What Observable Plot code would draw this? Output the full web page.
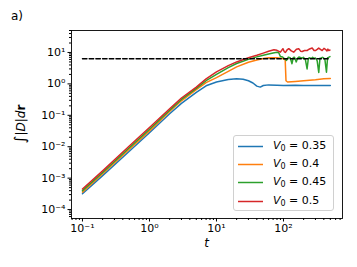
<!DOCTYPE html>
<html><head><meta charset="utf-8">
<script src="https://cdn.jsdelivr.net/npm/d3@7"></script>
<script src="https://cdn.jsdelivr.net/npm/@observablehq/plot@0.6"></script>
<style>
body{margin:0;background:#fff;}
#wrap{position:relative;width:357px;height:267px;font-family:"DejaVu Sans",sans-serif;}
#legend{position:absolute;left:233px;top:135px;width:101px;height:76px;border:1px solid #d0d0d0;border-radius:3px;background:rgba(255,255,255,0.85);box-sizing:border-box;}
.row{position:absolute;left:0;height:18px;font-size:11px;line-height:18px;color:#000;}
.row svg{position:absolute;left:4px;top:8px;}
.row span{position:absolute;left:39px;white-space:nowrap;}
.row sub{font-size:8px;vertical-align:-2px;}
</style></head><body><div id="wrap"></div>
<script>
const seriesNames = ["V0 = 0.35", "V0 = 0.4", "V0 = 0.45", "V0 = 0.5"];
const seriesValues = ["0.35", "0.4", "0.45", "0.5"];
const colors = ["#1f77b4", "#ff7f0e", "#2ca02c", "#d62728"];

const tBlue = [0.1,0.2,0.5,1,2,3,5,7,10,15,20,25,30,35,40,45,50,60,80,100,150,200,300,500];
const vBlue = [3.2e-4,1.2e-3,7.2e-3,0.028,0.112,0.24,0.54,0.87,1.15,1.38,1.45,1.41,1.26,1.07,0.85,0.79,0.89,0.93,0.91,0.89,0.91,0.89,0.89,0.89];

const tOrange = [0.1,0.2,0.5,1,2,3,5,7,10,15,20,30,40,50,60,80,100,106,109,115,150,200,300,400,500];
const vOrange = [3.6e-4,1.38e-3,8.3e-3,0.032,0.132,0.29,0.66,1.10,1.58,2.51,3.47,4.9,5.75,6.46,6.76,6.76,6.31,6.03,1.26,1.15,1.2,1.26,1.35,1.45,1.48];

const tGreen = [0.1,0.2,0.5,1,2,3,5,7,10,15,20,30,40,50,60,70,80,85,90,97,105,111,118,126,134,140,146,155,162,170,179,190,198,212,225,235,245,260,272,286,299,318,336,350,362,380,394,415,438,455,470,494];
const vGreen = [4.0e-4,1.51e-3,9.3e-3,0.036,0.145,0.32,0.72,1.26,2.0,3.31,4.47,6.03,7.24,8.13,8.91,9.55,10.2,9.8,7.4,7.2,6.2,5.6,7.1,6.8,4.4,6.9,7.0,5.0,6.5,7.2,6.9,6.6,7.0,6.0,3.0,6.5,6.8,6.4,7.0,6.5,6.7,5.5,2.3,6.5,6.6,7.0,6.8,6.0,2.35,6.8,7.0,7.4];

const tRed = [0.1,0.2,0.5,1,2,3,5,7,10,15,20,30,40,50,60,72,80,90,98,103,107,113,120,131,142,156,169,180,190,206,225,235,245,268,286,300,318,336,356,378,402,423,446,460,474,494];
const vRed = [4.5e-4,1.70e-3,0.0105,0.041,0.162,0.355,0.79,1.45,2.4,3.8,5.0,6.76,8.13,9.55,10.96,12.2,11.7,10.2,13.2,10.5,10.0,12.0,13.2,11.2,10.2,12.6,13.2,11.0,10.7,11.5,11.5,12.3,12.9,13.8,11.5,11.5,12.5,13.8,12.6,11.5,13.5,12.6,11.2,12.8,11.5,12.0];

const tDash = [0.1, 500];
const vDash = [6.3, 6.3];

const xTicks = [0.1, 1, 10, 100];
const xTickLabels = ["10⁻¹", "10⁰", "10¹", "10²"];
const yTicks = [1e-4, 1e-3, 1e-2, 1e-1, 1, 10];
const yTickLabels = ["10⁻⁴", "10⁻³", "10⁻²", "10⁻¹", "10⁰", "10¹"];

const seriesT = [tBlue, tOrange, tGreen, tRed];
const seriesV = [vBlue, vOrange, vGreen, vRed];
const data = [];
seriesT.forEach((ts, k) => ts.forEach((t, i) => data.push({s: seriesNames[k], t, v: seriesV[k][i]})));
const dash = tDash.map((t, i) => ({t, v: vDash[i]}));

function minorTicks(lo, hi) {
  const out = [];
  for (let e = Math.floor(Math.log10(lo)); e <= Math.ceil(Math.log10(hi)); e++)
    for (let m = 2; m <= 9; m++) { const v = m * Math.pow(10, e); if (v >= lo && v <= hi) out.push(v); }
  return out;
}
const xDomain = [0.0686, 760];
const yDomain = [5.2e-5, 50];

const chart = Plot.plot({
  width: 357, height: 267,
  marginLeft: 71, marginRight: 15, marginTop: 30, marginBottom: 49,
  style: {fontFamily: "DejaVu Sans", fontSize: "11px", background: "white", color: "black", overflow: "visible"},
  x: {type: "log", domain: xDomain, label: null},
  y: {type: "log", domain: yDomain, label: null},
  color: {domain: seriesNames, range: colors},
  marks: [
    Plot.axisX(minorTicks(...xDomain), {tickSize: 2, tickFormat: () => "", label: null}),
    Plot.axisX(xTicks, {tickSize: 3.5, tickPadding: 2.5, tickFormat: d => xTickLabels[xTicks.indexOf(d)], label: null}),
    Plot.axisY(minorTicks(...yDomain), {tickSize: 2, tickFormat: () => "", label: null}),
    Plot.axisY(yTicks, {tickSize: 3.5, tickPadding: 2.5, tickFormat: d => yTickLabels[yTicks.indexOf(d)], label: null}),
    Plot.line(data, {x: "t", y: "v", z: "s", stroke: "s", strokeWidth: 1.5}),
    Plot.line(dash, {x: "t", y: "v", stroke: "black", strokeWidth: 1.4, strokeDasharray: "4.5,2.2"}),
    Plot.frame({stroke: "black", strokeWidth: 0.9})
  ]
});
document.getElementById("wrap").appendChild(chart);

const svg = d3.select(chart);
const yl = svg.append("text").attr("transform", "translate(25,124) rotate(-90)")
  .attr("text-anchor", "middle").attr("font-size", 12).attr("fill", "black");
yl.append("tspan").text("∫").attr("font-size", 15);
yl.append("tspan").text("|");
yl.append("tspan").text("D").attr("font-style", "italic");
yl.append("tspan").text("|");
yl.append("tspan").text("d").attr("font-style", "italic");
yl.append("tspan").text("r").attr("font-weight", "bold");
svg.append("text").attr("x", 206.5).attr("y", 247).attr("text-anchor", "middle")
  .attr("font-size", 12).attr("font-style", "italic").attr("fill", "black").text("t");
svg.append("text").attr("x", 17).attr("y", 20).attr("font-size", 12).attr("fill", "black").text("a)");

const legend = document.createElement("div");
legend.id = "legend";
seriesValues.forEach((val, i) => {
  const row = document.createElement("div");
  row.className = "row";
  row.style.top = (1 + i * 18.2) + "px";
  row.style.width = "99px";
  row.innerHTML = `<svg width="26" height="3"><line x1="0" y1="1.5" x2="25" y2="1.5" stroke="${colors[i]}" stroke-width="1.5"/></svg><span><i>V</i><sub>0</sub> = ${val}</span>`;
  legend.appendChild(row);
});
document.getElementById("wrap").appendChild(legend);
</script></body></html>
